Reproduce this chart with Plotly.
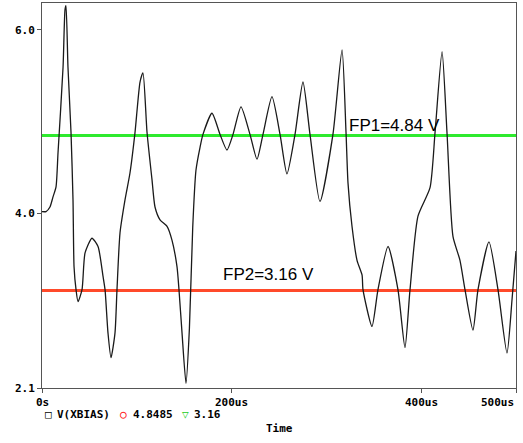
import plotly.graph_objects as go

time_us = [0, 4.2, 8.4, 11.6, 14.8, 16.9, 22.2, 24.3, 25.3, 27.4, 30.6, 32.7, 33.8, 35.9, 38.0,
           42.2, 45.4, 52.7, 59.1, 64.3, 66.5, 69.6, 72.8, 77.0, 79.1, 82.3, 87.6, 92.8, 98.1, 103.4,
           106.5, 110.8, 116.0, 119.2, 124.5, 131.9, 137.1, 142.4, 144.5, 147.7, 151.9, 155.5,
           159.0, 162.4, 166.7, 169.8, 179.3, 187.8, 195.1, 201.5, 209.9, 219.4, 226.8, 233.1, 242.6,
           251.1, 258.4, 266.9, 275.3, 282.7, 293.2, 306.9, 316.5, 320.7, 322.8, 327.0, 332.3, 337.6,
           338.6, 348.1, 354.4, 365.0, 375.5, 382.9, 388.2, 396.6, 409.3, 414.6, 422.0, 427.2, 433.5,
           440.9, 446.2, 454.6, 459.9, 471.5, 481.0, 490.5, 495.8, 500]
v_xbias = [4.02, 4.02, 4.07, 4.18, 4.29, 4.66, 5.59, 6.22, 6.26, 5.59, 4.88, 4.15, 3.42, 3.17, 3.04,
           3.17, 3.57, 3.73, 3.64, 3.32, 3.17, 2.70, 2.43, 2.70, 3.17, 3.79, 4.15, 4.44, 4.88, 5.43,
           5.53, 4.88, 4.37, 4.07, 3.93, 3.86, 3.71, 3.42, 3.17, 2.70, 2.15, 2.75,
           3.85, 4.47, 4.72, 4.86, 5.09, 4.86, 4.69, 4.86, 5.16, 4.86, 4.59, 4.86, 5.27,
           4.86, 4.43, 4.86, 5.43, 4.86, 4.13, 4.86, 5.78, 4.88, 4.33, 3.86, 3.49, 3.33,
           3.17, 2.77, 3.17, 3.64, 3.17, 2.54, 3.17, 3.97, 4.28, 4.88, 5.76, 4.88, 3.75,
           3.49, 3.17, 2.73, 3.17, 3.69, 3.17, 2.48, 3.06, 3.59]

fp1 = 4.8485
fp2 = 3.16
x_ticks = [0, 200, 400, 500]
x_tick_labels = ["0s", "200us", "400us", "500us"]
y_ticks = [2.1, 4.0, 6.0]
y_tick_labels = ["2.1", "4.0", "6.0"]

mono = "DejaVu Sans Mono"
fig = go.Figure()
fig.add_trace(go.Scatter(x=[0, 500], y=[fp1, fp1], mode="lines",
                         line=dict(color="#2EEA2E", width=3), hoverinfo="skip"))
fig.add_trace(go.Scatter(x=[0, 500], y=[fp2, fp2], mode="lines",
                         line=dict(color="#FF4A2A", width=3), hoverinfo="skip"))
fig.add_trace(go.Scatter(x=time_us, y=v_xbias, mode="lines",
                         line=dict(color="#1a1a1a", width=1.3, shape="spline", smoothing=0.6)))

fig.add_annotation(x=321.7, y=4.96, text="FP1=4.84 V", showarrow=False, xanchor="left", yanchor="middle",
                   font=dict(family="Liberation Sans", size=17, color="#000"))
fig.add_annotation(x=188.8, y=3.34, text="FP2=3.16 V", showarrow=False, xanchor="left", yanchor="middle",
                   font=dict(family="Liberation Sans", size=17, color="#000"))

# x tick labels drawn as annotations so the last one is not clipped at the edge
for tv, tl in zip(x_ticks, x_tick_labels):
    anchor = "right" if tv == x_ticks[-1] else "center"
    fig.add_annotation(x=tv, xref="x", yref="paper", y=-(402 - 388) / 385, text="<b>%s</b>" % tl,
                       showarrow=False, xanchor=anchor, yanchor="middle",
                       xshift=0, font=dict(family=mono, size=11, color="#000"))

legend_items = [("\u25a1", "#000", 43), ("V(XBIAS)", "#000", 55), ("\u25cb", "#ff2020", 118),
                ("4.8485", "#000", 131), ("\u25bd", "#22cc22", 180), ("3.16", "#000", 192)]
for txt, col, px in legend_items:
    fig.add_annotation(xref="paper", yref="paper", x=(px - 42) / 474, y=-(415 - 388) / 385,
                       text="<b>" + txt + "</b>", showarrow=False, xanchor="left", yanchor="middle",
                       font=dict(family=mono, size=11, color=col))
fig.add_annotation(xref="paper", yref="paper", x=0.5, y=-(428 - 388) / 385, text="<b>Time</b>",
                   showarrow=False, xanchor="center", yanchor="middle",
                   font=dict(family=mono, size=11, color="#000"))

fig.update_layout(
    width=523, height=443, margin=dict(l=42, r=7, t=3, b=55),
    paper_bgcolor="white", plot_bgcolor="white", showlegend=False,
    xaxis=dict(range=[0, 500], tickvals=x_ticks, showticklabels=False,
               showgrid=False, zeroline=False, showline=True, linecolor="#555", linewidth=1, mirror=True,
               ticks="outside", ticklen=4, tickcolor="#555"),
    yaxis=dict(range=[2.1, 6.29], tickvals=y_ticks, ticktext=["<b>%s</b>" % s for s in y_tick_labels],
               showgrid=False, zeroline=False, showline=True, linecolor="#555", linewidth=1, mirror=True,
               ticks="outside", ticklen=4, tickcolor="#555",
               tickfont=dict(family=mono, size=11, color="#000")),
)
fig.write_html("out.html")
